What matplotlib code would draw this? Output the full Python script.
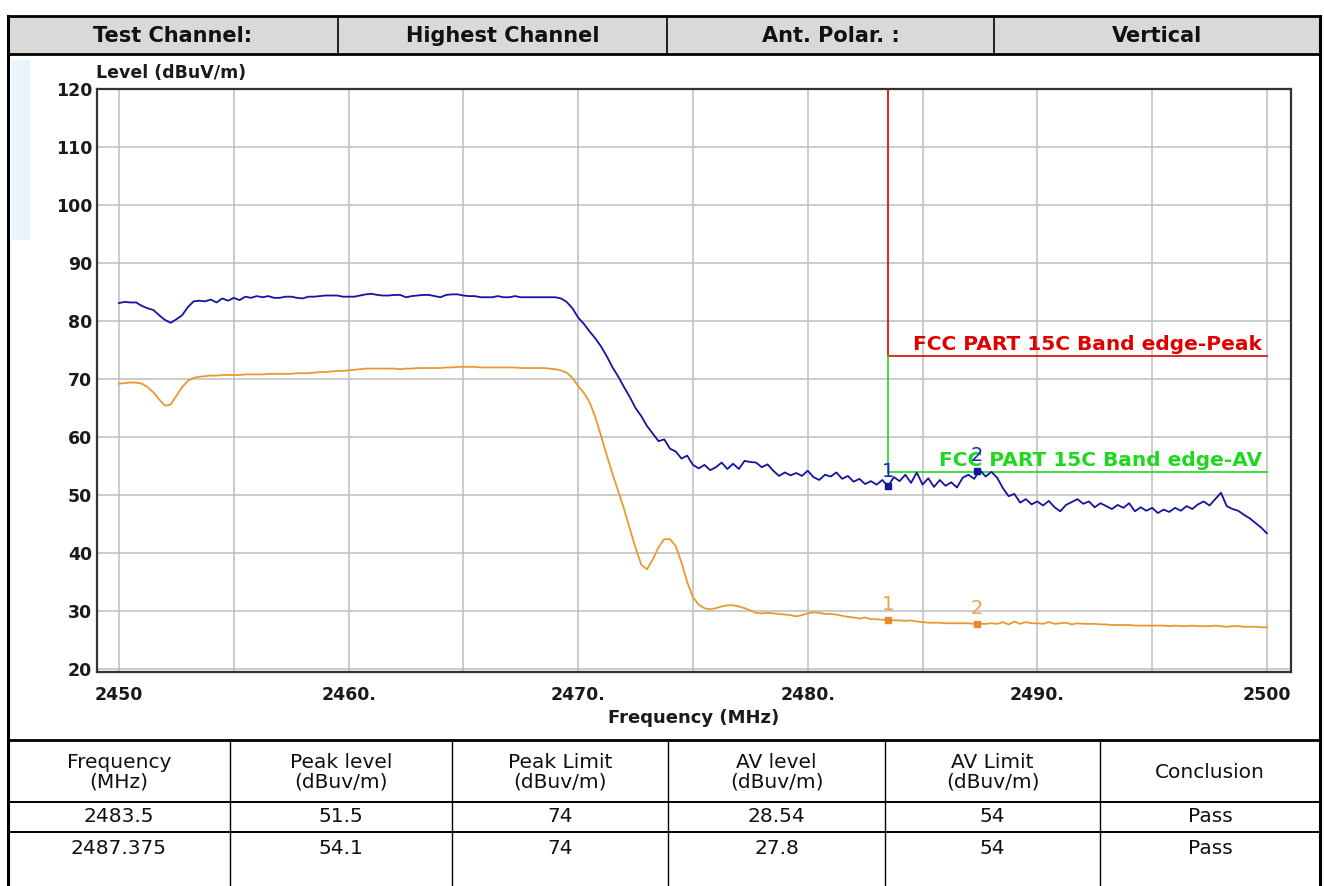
import numpy as np
import matplotlib
matplotlib.use('Agg')
import matplotlib.pyplot as plt
from matplotlib.lines import Line2D
from matplotlib.patches import Rectangle

plt.rcParams['font.family'] = ['DejaVu Sans']

# ---------------- data ----------------
f_start, f_stop = 2450.0, 2500.0

# Peak trace (dBuV/m), 0.25 MHz steps from 2450 to 2500 (8 values per 2 MHz row)
peak_level = [
    83.1, 83.3, 83.2, 83.2, 82.6, 82.2, 81.9, 81.0,   # 2450
    80.2, 79.7, 80.3, 81.0, 82.4, 83.4, 83.5, 83.4,   # 2452
    83.7, 83.2, 83.9, 83.5, 84.0, 83.6, 84.2, 84.0,   # 2454
    84.3, 84.1, 84.3, 84.0, 84.0, 84.2, 84.2, 84.0,   # 2456
    83.9, 84.2, 84.2, 84.3, 84.4, 84.4, 84.4, 84.2,   # 2458
    84.2, 84.2, 84.4, 84.6, 84.7, 84.5, 84.4, 84.4,   # 2460
    84.5, 84.5, 84.1, 84.3, 84.4, 84.5, 84.5, 84.3,   # 2462
    84.1, 84.5, 84.6, 84.6, 84.4, 84.3, 84.3, 84.1,   # 2464
    84.1, 84.1, 84.3, 84.1, 84.1, 84.3, 84.1, 84.1,   # 2466
    84.1, 84.1, 84.1, 84.1, 84.1, 83.9, 83.3, 82.2,   # 2468
    80.6, 79.5, 78.2, 77.0, 75.6, 73.9, 72.0, 70.4,   # 2470
    68.6, 66.9, 65.0, 63.6, 61.9, 60.6, 59.3, 59.6,   # 2472
    58.0, 57.5, 56.3, 56.8, 55.2, 54.6, 55.2, 54.3,   # 2474
    54.8, 55.6, 54.5, 55.4, 54.5, 55.9, 55.7, 55.6,   # 2476
    54.8, 55.3, 54.2, 53.3, 53.9, 53.4, 53.8, 53.3,   # 2478
    54.2, 53.1, 52.6, 53.5, 53.2, 53.9, 52.8, 53.3,   # 2480
    52.3, 52.8, 51.9, 52.4, 51.8, 52.6, 51.5, 53.1,   # 2482
    52.4, 53.5, 52.1, 53.9, 51.8, 52.9, 51.4, 52.6,   # 2484
    51.6, 52.2, 51.3, 53.0, 53.5, 52.8, 54.3, 53.2,   # 2486
    54.0, 53.0, 51.2, 49.8, 50.2, 48.7, 49.3, 48.4,   # 2488
    48.9, 48.2, 49.0, 47.9, 47.2, 48.3, 48.8, 49.3,   # 2490
    48.5, 48.9, 47.9, 48.6, 48.1, 47.6, 48.3, 47.8,   # 2492
    48.6, 47.2, 47.9, 47.3, 47.8, 46.9, 47.5, 47.1,   # 2494
    47.8, 47.3, 48.1, 47.6, 48.4, 48.9, 48.2, 49.3,   # 2496
    50.4, 48.1, 47.6, 47.3, 46.6, 46.0, 45.2, 44.4,   # 2498
    43.4,                                             # 2500
]

# Average trace (dBuV/m), same sweep
av_level = [
    69.2, 69.3, 69.4, 69.4, 69.2, 68.6, 67.7, 66.5,   # 2450
    65.4, 65.6, 67.1, 68.6, 69.7, 70.2, 70.4, 70.5,   # 2452
    70.6, 70.6, 70.7, 70.7, 70.7, 70.7, 70.8, 70.8,   # 2454
    70.8, 70.8, 70.9, 70.9, 70.9, 70.9, 70.9, 71.0,   # 2456
    71.0, 71.0, 71.1, 71.2, 71.2, 71.3, 71.4, 71.4,   # 2458
    71.5, 71.6, 71.7, 71.8, 71.8, 71.8, 71.8, 71.8,   # 2460
    71.8, 71.7, 71.8, 71.8, 71.9, 71.9, 71.9, 71.9,   # 2462
    71.9, 72.0, 72.0, 72.1, 72.1, 72.1, 72.1, 72.0,   # 2464
    72.0, 72.0, 72.0, 72.0, 72.0, 72.0, 71.9, 71.9,   # 2466
    71.9, 71.9, 71.9, 71.8, 71.7, 71.5, 71.1, 70.2,   # 2468
    68.8, 67.6, 66.0, 63.4, 60.2, 56.8, 53.6, 50.6,   # 2470
    47.6, 44.2, 40.9, 38.0, 37.2, 38.9, 41.0, 42.4,   # 2472
    42.4, 41.2, 38.4, 35.0, 32.4, 31.1, 30.5, 30.3,   # 2474
    30.5, 30.8, 31.0, 31.0, 30.8, 30.5, 30.1, 29.7,   # 2476
    29.6, 29.7, 29.6, 29.5, 29.4, 29.3, 29.1, 29.3,   # 2478
    29.6, 29.8, 29.7, 29.5, 29.5, 29.4, 29.2, 29.0,   # 2480
    28.9, 28.7, 28.9, 28.6, 28.6, 28.5, 28.54, 28.4,  # 2482
    28.4, 28.3, 28.4, 28.2, 28.1, 28.0, 28.0, 28.0,   # 2484
    27.9, 27.9, 27.9, 27.9, 27.9, 27.8, 27.8, 27.8,   # 2486
    27.9, 27.8, 28.1, 27.7, 28.2, 27.8, 28.1, 27.9,   # 2488
    27.9, 27.8, 28.1, 27.8, 27.9, 28.0, 27.7, 27.9,   # 2490
    27.8, 27.8, 27.8, 27.7, 27.7, 27.6, 27.6, 27.6,   # 2492
    27.6, 27.5, 27.5, 27.5, 27.5, 27.5, 27.5, 27.4,   # 2494
    27.5, 27.4, 27.4, 27.5, 27.4, 27.4, 27.4, 27.5,   # 2496
    27.4, 27.3, 27.4, 27.4, 27.3, 27.3, 27.3, 27.2,   # 2498
    27.2,                                             # 2500
]

limit_freq = 2483.5
peak_limit = 74
av_limit = 54
y_top = 120

marker_freq = [2483.5, 2487.375]
marker_peak = [51.5, 54.1]
marker_av = [28.54, 27.8]
marker_names = ["1", "2"]

x_ticks = [2450, 2460, 2470, 2480, 2490, 2500]
x_tick_labels = ["2450", "2460.", "2470.", "2480.", "2490.", "2500"]
x_minor = [2455, 2465, 2475, 2485, 2495]
y_ticks = [20, 30, 40, 50, 60, 70, 80, 90, 100, 110, 120]

header_cells = ["Test Channel:", "Highest Channel", "Ant. Polar. :", "Vertical"]
table_header = ["Frequency\n(MHz)", "Peak level\n(dBuv/m)", "Peak Limit\n(dBuv/m)",
                "AV level\n(dBuv/m)", "AV Limit\n(dBuv/m)", "Conclusion"]
table_rows = [["2483.5", "51.5", "74", "28.54", "54", "Pass"],
              ["2487.375", "54.1", "74", "27.8", "54", "Pass"]]

# ---------------- figure ----------------
W, H = 1324, 886
fig = plt.figure(figsize=(W / 100, H / 100), dpi=100)
fig.patch.set_facecolor('white')


def X(px):
    return px / W


def Y(py):
    return 1 - py / H


def fline(xs, ys, lw, color='black', z=5):
    fig.add_artist(Line2D([X(v) for v in xs], [Y(v) for v in ys],
                          transform=fig.transFigure, lw=lw, color=color,
                          solid_capstyle='projecting', zorder=z))


# faint watermark strip on left
fig.add_artist(Rectangle((X(12), Y(240)), X(30) - X(12), Y(60) - Y(240),
                         transform=fig.transFigure, facecolor='#e9f4fc',
                         edgecolor='none', zorder=0))

# header band
L, R = 8, 1320
top_h, bot_h = 16, 54
chart_bot = 740
fig.add_artist(Rectangle((X(L), Y(bot_h)), X(R) - X(L), Y(top_h) - Y(bot_h),
                         transform=fig.transFigure, facecolor='#d9d9d9',
                         edgecolor='none', zorder=1))
hdr_edges = [L, 338, 667, 994, R]
for i, txt in enumerate(header_cells):
    cx = (hdr_edges[i] + hdr_edges[i + 1]) / 2
    fig.text(X(cx), Y((top_h + bot_h) / 2 + 1), txt, ha='center', va='center',
             fontsize=15, fontweight='bold', color='#111111', zorder=6)
for e in hdr_edges[1:-1]:
    fline([e, e], [top_h, bot_h], 1.2)

# table
tbl_edges = [L, 230, 452, 668, 885, 1100, R]
row_lines = [chart_bot, 802, 832]
row_centers = [817, 849]
for j, txt in enumerate(table_header):
    cx = (tbl_edges[j] + tbl_edges[j + 1]) / 2
    fig.text(X(cx), Y(772), txt, ha='center',
             va='center', fontsize=14.5, linespacing=1.05, color='#111111')
for r, row in enumerate(table_rows):
    cy = row_centers[r]
    for j, txt in enumerate(row):
        cx = (tbl_edges[j] + tbl_edges[j + 1]) / 2
        fig.text(X(cx), Y(cy), txt, ha='center', va='center', fontsize=14.5,
                 color='#111111')
for e in tbl_edges[1:-1]:
    fline([e, e], [chart_bot, 886], 1.0)
for yv in row_lines[1:]:
    fline([L, R], [yv, yv], 1.4)

# outer frame lines
fline([L, R], [top_h, top_h], 2.0)
fline([L, R], [bot_h, bot_h], 2.0)
fline([L, R], [chart_bot, chart_bot], 2.0)
fline([L, L], [top_h, 886], 2.2)
fline([R, R], [top_h, 886], 2.2)

# ---------------- axes ----------------
ax_l, ax_r, ax_t, ax_b = 96.5, 1291, 89, 672
ax = fig.add_axes([X(ax_l), Y(ax_b), X(ax_r) - X(ax_l), Y(ax_t) - Y(ax_b)])
ax.set_xlim(2449.02, 2501.05)
ax.set_ylim(19.5, 120)

ax.set_xticks(x_ticks)
ax.set_xticklabels(x_tick_labels)
ax.set_xticks(x_minor, minor=True)
ax.set_yticks(y_ticks)
ax.set_yticklabels([str(v) for v in y_ticks])
ax.tick_params(axis='both', which='both', length=0)
ax.tick_params(axis='x', pad=10)
ax.tick_params(axis='y', pad=3)
for lab in ax.get_xticklabels() + ax.get_yticklabels():
    lab.set_fontsize(12.5)
    lab.set_fontweight('bold')
    lab.set_color('#1a1a1a')
ax.grid(True, which='both', color='#bdbdbd', lw=1.1)
ax.set_axisbelow(True)
for s in ax.spines.values():
    s.set_color('#333333')
    s.set_linewidth(1.6)

blue = '#1414a0'
orange = '#e89a30'
red = '#e00000'
green = '#1ed81e'

ax.plot(np.linspace(f_start, f_stop, len(peak_level)), peak_level,
        color=blue, lw=1.3, zorder=4)
ax.plot(np.linspace(f_start, f_stop, len(av_level)), av_level,
        color=orange, lw=1.3, zorder=4)

ax.plot([limit_freq, limit_freq], [peak_limit, y_top], color=red, lw=1.2, zorder=3)
ax.plot([limit_freq, f_stop], [peak_limit, peak_limit], color=red, lw=1.2, zorder=3)
ax.plot([limit_freq, limit_freq], [av_limit, peak_limit], color=green, lw=1.2, zorder=3)
ax.plot([limit_freq, f_stop], [av_limit, av_limit], color=green, lw=1.2, zorder=3)

ax.text(2499.8, peak_limit + 0.35, "FCC PART 15C Band edge-Peak", ha='right',
        va='bottom', color=red, fontsize=14.5, fontweight='bold', zorder=5)
ax.text(2499.8, av_limit + 0.35, "FCC PART 15C Band edge-AV", ha='right',
        va='bottom', color=green, fontsize=14.5, fontweight='bold', zorder=5)

ax.plot(marker_freq, marker_peak, 's', color=blue, ms=5, ls='none', zorder=6)
ax.plot(marker_freq, marker_av, 's', color='#e8892c', ms=5, ls='none', zorder=6)
for f, vp, va_, name in zip(marker_freq, marker_peak, marker_av, marker_names):
    ax.text(f, vp + 1.0, name, ha='center', va='bottom', color='#2020c8',
            fontsize=14, zorder=7)
    ax.text(f, va_ + 1.0, name, ha='center', va='bottom', color='#f0a048',
            fontsize=14, zorder=7)

fig.text(X(ax_l), Y(73), "Level (dBuV/m)", ha='left', va='center',
         fontsize=12.5, fontweight='bold', color='#1a1a1a')
fig.text(X(694), Y(718), "Frequency (MHz)", ha='center', va='center',
         fontsize=13, fontweight='bold', color='#1a1a1a')

fig.savefig('out.png', dpi=100)
